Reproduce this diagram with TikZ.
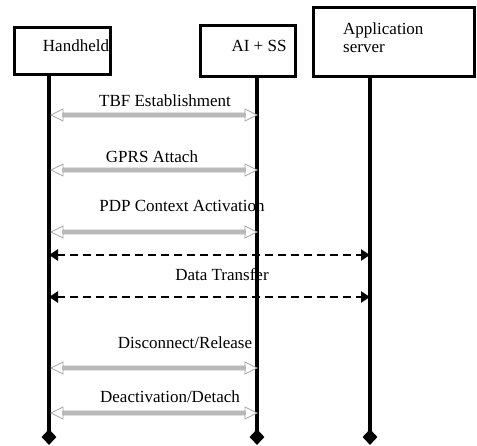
\documentclass[tikz,border=0pt]{standalone}
\usepackage{fontspec}
\setmainfont{Liberation Serif}
\usetikzlibrary{shapes.geometric,arrows.meta,calc}

\tikzset{
  entity/.style={draw, line width=3.4pt, inner sep=0pt},
  lbl/.style={font=\fontsize{17}{19}\selectfont, inner sep=0pt, anchor=base},
  lifeline/.style={line width=3.6pt},
  lifeend/.style={diamond, fill, draw=none, inner sep=0pt, minimum width=15pt, minimum height=16pt},
  % grey hollow double-headed message arrow: open outline ...
  hollow/.style={draw=gray!70, fill=white, line width=0.7pt,
    to path={let \p1=(\tikztostart), \p2=(\tikztotarget) in
      -- (\x1+12pt,\y1+6pt) -- (\x1+12pt,\y1+2pt) -- (\x2-12pt,\y2+2pt)
      -- (\x2-12pt,\y2+6pt) -- (\x2,\y2) -- (\x2-12pt,\y2-6pt)
      -- (\x2-12pt,\y2-2pt) -- (\x1+12pt,\y1-2pt) -- (\x1+12pt,\y1-6pt) -- cycle}},
  % ... with a shaded shaft
  hollowshaft/.style={fill=gray!55, draw=none,
    to path={let \p1=(\tikztostart), \p2=(\tikztotarget) in
      (\x1+11pt,\y1-1.6pt) rectangle (\x2-11pt,\y2+1.6pt)}},
  datamsg/.style={line width=2.6pt, dash pattern=on 8pt off 5pt,
    {Triangle[length=9pt,width=11pt]}-{Triangle[length=9pt,width=11pt]}}
}

\begin{document}
\begin{tikzpicture}[x=1pt, y=-1pt]
\useasboundingbox (0,0) rectangle (477,445);

% participant boxes
\node[entity, minimum width=96pt, minimum height=47pt] (hhBox) at (62.5,51) {};
\node[entity, minimum width=95pt, minimum height=51pt] (aiBox) at (248,51) {};
\node[entity, minimum width=161pt, minimum height=69pt] (asBox) at (394,42) {};

\node[lbl] (hhText) at (76,51) {Handheld};
\node[lbl] (aiText) at (259,51) {AI + SS};
\node[lbl, anchor=base west] (asText1) at (343,34) {Application};
\node[lbl, anchor=base west] (asText2) at (343,52) {server};

% lifelines
\coordinate (hhTop) at (49,75);
\coordinate (aiTop) at (257,77);
\coordinate (asTop) at (370,77);
\node[lifeend] (hhEnd) at (49,437) {};
\node[lifeend] (aiEnd) at (257,437) {};
\node[lifeend] (asEnd) at (370,437) {};
\draw[lifeline] (hhTop) -- (hhEnd.center);
\draw[lifeline] (aiTop) -- (aiEnd.center);
\draw[lifeline] (asTop) -- (asEnd.center);

% message end points on the lifelines
\coordinate (tbfL) at (51,115);  \coordinate (tbfR) at (257,115);
\coordinate (gprsL) at (51,170); \coordinate (gprsR) at (257,170);
\coordinate (pdpL) at (51,232);  \coordinate (pdpR) at (257,232);
\coordinate (relL) at (51,368);  \coordinate (relR) at (257,368);
\coordinate (detL) at (51,413);  \coordinate (detR) at (257,413);
\coordinate (dataAL) at (49,255); \coordinate (dataAR) at (370,255);
\coordinate (dataBL) at (49,297); \coordinate (dataBR) at (370,297);

% signalling messages
\path[hollow] (tbfL) to (tbfR);   \path[hollowshaft] (tbfL) to (tbfR);
\path[hollow] (gprsL) to (gprsR); \path[hollowshaft] (gprsL) to (gprsR);
\path[hollow] (pdpL) to (pdpR);   \path[hollowshaft] (pdpL) to (pdpR);
\path[hollow] (relL) to (relR);   \path[hollowshaft] (relL) to (relR);
\path[hollow] (detL) to (detR);   \path[hollowshaft] (detL) to (detR);

% data transfer
\draw[datamsg] (dataAL) -- (dataAR);
\draw[datamsg] (dataBL) -- (dataBR);

% message labels
\node[lbl] (t1) at (165,106) {TBF Establishment};
\node[lbl] (t2) at (152,162) {GPRS Attach};
\node[lbl] (t3) at (182,211) {PDP Context Activation};
\node[lbl] (t4) at (222,280) {Data Transfer};
\node[lbl] (t5) at (185,348) {Disconnect/Release};
\node[lbl] (t6) at (170,402) {Deactivation/Detach};
\end{tikzpicture}
\end{document}
